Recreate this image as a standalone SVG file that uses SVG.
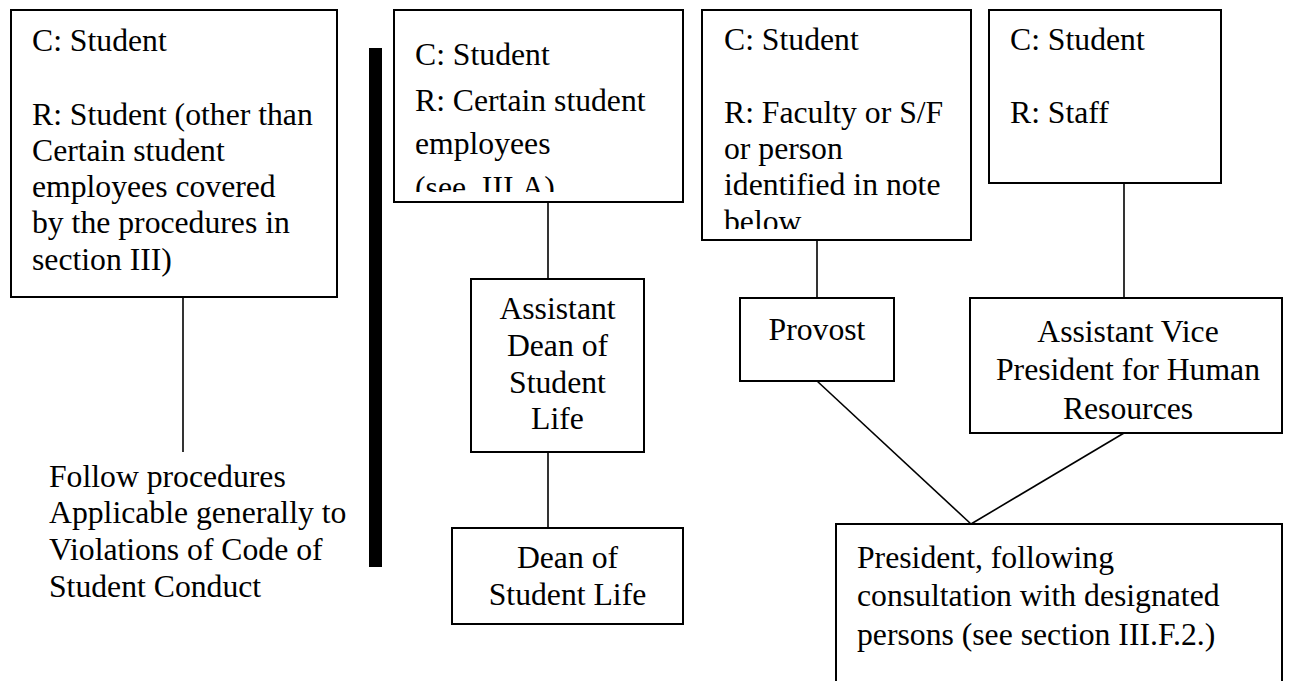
<svg xmlns="http://www.w3.org/2000/svg" width="1298" height="681" viewBox="0 0 1298 681">
<style>
text{font-size:31.7px;fill:#000}
.box{fill:#fff;stroke:#000;stroke-width:2}
.c{text-anchor:middle}
.conn line{stroke:#000;stroke-width:1.6}
</style>
<defs>
<clipPath id="clip2"><rect x="394" y="10" width="289" height="182"/></clipPath>
<clipPath id="clip3"><rect x="702" y="10" width="269" height="219"/></clipPath>
</defs>
<rect width="1298" height="681" fill="#fff"/>
<g id="connectors" class="conn">
<line x1="183" y1="297" x2="183" y2="452"/>
<line x1="548" y1="202" x2="548" y2="279"/>
<line x1="548" y1="452" x2="548" y2="528"/>
<line x1="817" y1="240" x2="817" y2="298"/>
<line x1="1124" y1="183" x2="1124" y2="298"/>
<line x1="817" y1="381" x2="971" y2="524"/>
<line x1="1124" y1="433" x2="971" y2="524"/>
</g>
<g id="divider"><rect x="369" y="48" width="13" height="519" fill="#000"/></g>
<g font-family="'Liberation Serif', 'Times New Roman', 'DejaVu Serif', serif">
<g id="box1">
<rect class="box" x="11" y="10" width="326" height="287"/>
<text x="32" y="51">C: Student</text>
<text x="32" y="125">R: Student (other than</text>
<text x="32" y="161">Certain student</text>
<text x="32" y="197">employees covered</text>
<text x="32" y="233">by the procedures in</text>
<text x="32" y="270">section III)</text>
</g>
<g id="follow">
<text x="49" y="487">Follow procedures</text>
<text x="49" y="523">Applicable generally to</text>
<text x="49" y="560">Violations of Code of</text>
<text x="49" y="597">Student Conduct</text>
</g>
<g id="box2">
<rect class="box" x="394" y="10" width="289" height="192"/>
<g clip-path="url(#clip2)">
<text x="415" y="65">C: Student</text>
<text x="415" y="111">R: Certain student</text>
<text x="415" y="154">employees</text>
<text x="415" y="198" xml:space="preserve">(see  III.A)</text>
</g>
</g>
<g id="box3">
<rect class="box" x="702" y="10" width="269" height="230"/>
<g clip-path="url(#clip3)">
<text x="724" y="50">C: Student</text>
<text x="724" y="123">R: Faculty or S/F</text>
<text x="724" y="159">or person</text>
<text x="724" y="195">identified in note</text>
<text x="724" y="232">below</text>
</g>
</g>
<g id="box4">
<rect class="box" x="989" y="10" width="232" height="173"/>
<text x="1010" y="50">C: Student</text>
<text x="1010" y="123">R: Staff</text>
</g>
<g id="asstDean">
<rect class="box" x="471" y="279" width="173" height="173"/>
<text class="c" x="557.5" y="319">Assistant</text>
<text class="c" x="557.5" y="356">Dean of</text>
<text class="c" x="557.5" y="393">Student</text>
<text class="c" x="557.5" y="429">Life</text>
</g>
<g id="dean">
<rect class="box" x="452" y="528" width="231" height="96"/>
<text class="c" x="567.5" y="568">Dean of</text>
<text class="c" x="567.5" y="605">Student Life</text>
</g>
<g id="provost">
<rect class="box" x="740" y="298" width="154" height="83"/>
<text class="c" x="817" y="340">Provost</text>
</g>
<g id="avp">
<rect class="box" x="970" y="298" width="312" height="135"/>
<text class="c" x="1128" y="342">Assistant Vice</text>
<text class="c" x="1128" y="380">President for Human</text>
<text class="c" x="1128" y="419">Resources</text>
</g>
<g id="president">
<rect class="box" x="836" y="524" width="446" height="170"/>
<text x="857" y="568">President, following</text>
<text x="857" y="606">consultation with designated</text>
<text x="857" y="645">persons (see section III.F.2.)</text>
</g>
</g>
</svg>
